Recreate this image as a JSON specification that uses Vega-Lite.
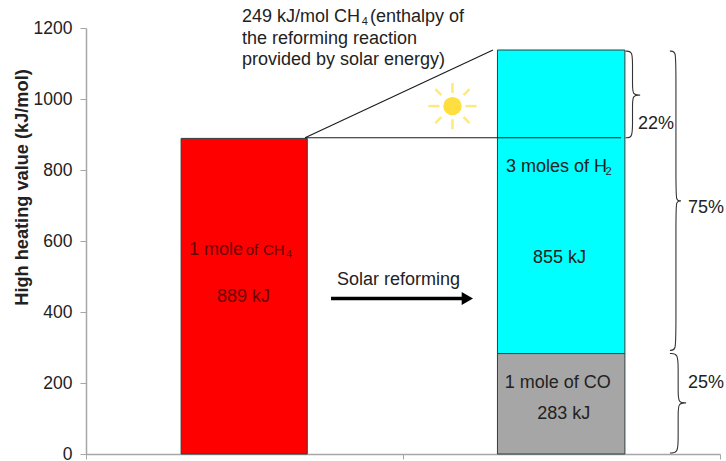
{
"$schema":"https://vega.github.io/schema/vega-lite/v6.json",
"width":634,"height":426,
"autosize":{"type":"none"},
"padding":{"left":86,"top":28,"right":6,"bottom":7},
"background":"white",
"config":{"view":{"stroke":null},"font":"Liberation Sans"},
"datasets":{
"bars":[
{"species":"CH4","x0":0.3,"x1":0.698,"low":0,"high":889},
{"species":"CO","x0":1.298,"x1":1.7,"low":0,"high":283},
{"species":"H2","x0":1.298,"x1":1.7,"low":283,"high":1138}
],
"leaders":[
{"x0":0.691,"x1":1.284,"y0":891,"y1":1138},
{"x0":0.691,"x1":1.688,"y0":891,"y1":891}
],
"rays":[
{"x0":1.156,"x1":1.156,"y0":1017,"y1":1045},
{"x0":1.156,"x1":1.156,"y0":943,"y1":915},
{"x0":1.197,"x1":1.232,"y0":980,"y1":980},
{"x0":1.115,"x1":1.08,"y0":980,"y1":980},
{"x0":1.191,"x1":1.21,"y0":1011,"y1":1028},
{"x0":1.121,"x1":1.102,"y0":1011,"y1":1028},
{"x0":1.191,"x1":1.21,"y0":949,"y1":932},
{"x0":1.121,"x1":1.102,"y0":949,"y1":932}
],
"sun":[{"x":1.156,"y":980}],
"arrowShaft":[{"x0":0.773,"x1":1.2,"y":438}],
"arrowHead":[{"x":1.203,"y":438}],
"braces":[
{"b":"a","i":1,"x":1.702,"y":1135},{"b":"a","i":2,"x":1.724,"y":1135},{"b":"a","i":3,"x":1.724,"y":1100},{"b":"a","i":4,"x":1.724,"y":1040},{"b":"a","i":5,"x":1.724,"y":1011},{"b":"a","i":6,"x":1.748,"y":1011},{"b":"a","i":7,"x":1.748,"y":1011},{"b":"a","i":8,"x":1.748,"y":1011},{"b":"a","i":9,"x":1.724,"y":1011},{"b":"a","i":10,"x":1.724,"y":982},{"b":"a","i":11,"x":1.724,"y":930},{"b":"a","i":12,"x":1.724,"y":891},{"b":"a","i":13,"x":1.702,"y":891},
{"b":"b","i":1,"x":1.842,"y":1135},{"b":"b","i":2,"x":1.861,"y":1135},{"b":"b","i":3,"x":1.861,"y":1090},{"b":"b","i":4,"x":1.861,"y":750},{"b":"b","i":5,"x":1.861,"y":713},{"b":"b","i":6,"x":1.877,"y":713},{"b":"b","i":7,"x":1.877,"y":713},{"b":"b","i":8,"x":1.877,"y":713},{"b":"b","i":9,"x":1.861,"y":713},{"b":"b","i":10,"x":1.861,"y":676},{"b":"b","i":11,"x":1.861,"y":340},{"b":"b","i":12,"x":1.861,"y":292},{"b":"b","i":13,"x":1.842,"y":292},
{"b":"c","i":1,"x":1.842,"y":283},{"b":"c","i":2,"x":1.868,"y":283},{"b":"c","i":3,"x":1.868,"y":240},{"b":"c","i":4,"x":1.868,"y":175},{"b":"c","i":5,"x":1.868,"y":144},{"b":"c","i":6,"x":1.893,"y":144},{"b":"c","i":7,"x":1.893,"y":144},{"b":"c","i":8,"x":1.893,"y":144},{"b":"c","i":9,"x":1.868,"y":144},{"b":"c","i":10,"x":1.868,"y":113},{"b":"c","i":11,"x":1.868,"y":45},{"b":"c","i":12,"x":1.868,"y":3},{"b":"c","i":13,"x":1.842,"y":3}
],
"labels":[
{"t":"249 kJ/mol CH","x":0.492,"y":1217},
{"t":"(enthalpy of","x":0.896,"y":1217},
{"t":"the reforming reaction","x":0.492,"y":1155},
{"t":"provided by solar energy)","x":0.492,"y":1096},
{"t":"Solar reforming","x":0.792,"y":476},
{"t":"1 mole of CO","x":1.321,"y":186},
{"t":"3 moles of H","x":1.325,"y":794},
{"t":"22%","x":1.741,"y":915},
{"t":"75%","x":1.899,"y":679},
{"t":"25%","x":1.899,"y":186}
],
"centered":[
{"t":"855 kJ","x":1.494,"y":538},
{"t":"283 kJ","x":1.507,"y":99}
],
"onRed":[
{"t":"1 mole","x":0.325,"y":561},
{"t":"889 kJ","x":0.413,"y":429}
],
"onRedSmall":[
{"t":"of","x":0.504,"y":561},
{"t":"CH","x":0.558,"y":561}
],
"subs":[
{"t":"4","x":0.87,"y":1208},
{"t":"2","x":1.639,"y":786}
],
"subsRed":[{"t":"4","x":0.631,"y":552}]
},
"layer":[
{"data":{"name":"bars"},"mark":{"type":"bar","stroke":"#2f3f3f","strokeWidth":1},
"encoding":{
"x":{"field":"x0","type":"quantitative","scale":{"domain":[0,2],"nice":false,"zero":false},
"axis":{"values":[0,1,2],"labels":false,"title":null,"grid":false,"domainColor":"#a6a6a6","tickColor":"#a6a6a6","tickSize":5,"domainWidth":1.5}},
"x2":{"field":"x1"},
"y":{"field":"low","type":"quantitative","scale":{"domain":[0,1200],"nice":false},
"axis":{"values":[0,200,400,600,800,1000,1200],"format":"d","title":"High heating value (kJ/mol)","grid":false,"domainColor":"#a6a6a6","tickColor":"#a6a6a6","tickSize":6,"domainWidth":1.5,"labelFont":"Liberation Sans","labelFontSize":17.5,"labelColor":"#222222","labelPadding":8,"titleFont":"Liberation Sans","titleFontSize":18.2,"titleFontWeight":"bold","titleColor":"#222222","titleX":-55,"titleY":159}},
"y2":{"field":"high"},
"color":{"field":"species","type":"nominal","scale":{"domain":["CH4","CO","H2"],"range":["#ff0000","#a6a6a6","#00ffff"]},"legend":null}
}},
{"data":{"name":"leaders"},"mark":{"type":"rule","color":"#1a1a1a","strokeWidth":1.1},
"encoding":{"x":{"field":"x0","type":"quantitative"},"x2":{"field":"x1"},"y":{"field":"y0","type":"quantitative"},"y2":{"field":"y1"}}},
{"data":{"name":"rays"},"mark":{"type":"rule","color":"#ffe97a","strokeWidth":2.5},
"encoding":{"x":{"field":"x0","type":"quantitative"},"x2":{"field":"x1"},"y":{"field":"y0","type":"quantitative"},"y2":{"field":"y1"}}},
{"data":{"name":"sun"},"mark":{"type":"point","filled":true,"shape":"circle","size":340,"color":"#ffdf3f","opacity":1},
"encoding":{"x":{"field":"x","type":"quantitative"},"y":{"field":"y","type":"quantitative"}}},
{"data":{"name":"arrowShaft"},"mark":{"type":"rule","color":"#000000","strokeWidth":3.5},
"encoding":{"x":{"field":"x0","type":"quantitative"},"x2":{"field":"x1"},"y":{"field":"y","type":"quantitative"}}},
{"data":{"name":"arrowHead"},"mark":{"type":"point","filled":true,"shape":"triangle-right","size":170,"color":"#000000","opacity":1},
"encoding":{"x":{"field":"x","type":"quantitative"},"y":{"field":"y","type":"quantitative"}}},
{"data":{"name":"braces"},"mark":{"type":"line","interpolate":"basis","color":"#333333","strokeWidth":1.1},
"encoding":{"x":{"field":"x","type":"quantitative"},"y":{"field":"y","type":"quantitative"},"detail":{"field":"b"},"order":{"field":"i","type":"quantitative"}}},
{"data":{"name":"labels"},"mark":{"type":"text","align":"left","baseline":"alphabetic","fontSize":18,"font":"Liberation Sans","color":"#222222"},
"encoding":{"x":{"field":"x","type":"quantitative"},"y":{"field":"y","type":"quantitative"},"text":{"field":"t"}}},
{"data":{"name":"centered"},"mark":{"type":"text","align":"center","baseline":"alphabetic","fontSize":18,"font":"Liberation Sans","color":"#222222"},
"encoding":{"x":{"field":"x","type":"quantitative"},"y":{"field":"y","type":"quantitative"},"text":{"field":"t"}}},
{"data":{"name":"onRed"},"mark":{"type":"text","align":"left","baseline":"alphabetic","fontSize":18,"font":"Liberation Sans","color":"#6a0505"},
"encoding":{"x":{"field":"x","type":"quantitative"},"y":{"field":"y","type":"quantitative"},"text":{"field":"t"}}},
{"data":{"name":"onRedSmall"},"mark":{"type":"text","align":"left","baseline":"alphabetic","fontSize":15,"font":"Liberation Sans","color":"#6a0505"},
"encoding":{"x":{"field":"x","type":"quantitative"},"y":{"field":"y","type":"quantitative"},"text":{"field":"t"}}},
{"data":{"name":"subs"},"mark":{"type":"text","align":"left","baseline":"alphabetic","fontSize":11,"font":"Liberation Sans","color":"#222222"},
"encoding":{"x":{"field":"x","type":"quantitative"},"y":{"field":"y","type":"quantitative"},"text":{"field":"t"}}},
{"data":{"name":"subsRed"},"mark":{"type":"text","align":"left","baseline":"alphabetic","fontSize":11,"font":"Liberation Sans","color":"#6a0505"},
"encoding":{"x":{"field":"x","type":"quantitative"},"y":{"field":"y","type":"quantitative"},"text":{"field":"t"}}}
]
}
